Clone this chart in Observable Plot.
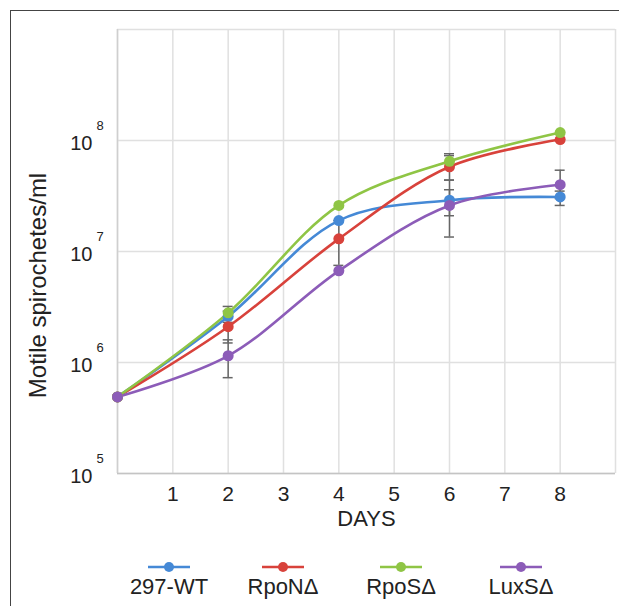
<!DOCTYPE html>
<html><head><meta charset="utf-8">
<script src="https://cdn.jsdelivr.net/npm/d3@7"></script>
<script src="https://cdn.jsdelivr.net/npm/@observablehq/plot@0.6"></script>
<style>
body{margin:0;width:619px;height:606px;overflow:hidden;background:#fff;font-family:"Liberation Sans",Arial,sans-serif;position:relative}
#frame{position:absolute;left:10px;top:10px;width:700px;height:700px;border-left:1.5px solid #444;border-top:1.5px solid #444}
#chart{position:absolute;left:0;top:0}
#legend{position:absolute;left:0;top:530px;width:619px;height:76px}
.item{position:absolute;top:0;width:120px;margin-left:-60px;text-align:center;color:#222;font-size:22px;line-height:24px}
.item svg{display:block;margin:31px auto 2px auto}
</style></head><body>
<div id="frame"></div><div id="chart"></div><div id="legend"></div>
<script>
// ---- data ----
const days = [0, 2, 4, 6, 8];
const seriesNames = ["297-WT", "RpoNΔ", "RpoSΔ", "LuxSΔ"];
const seriesColors = ["#4589d6", "#d8423b", "#8fc545", "#8c5cb8"];
const wt   = [4.9e5, 2.6e6, 1.9e7, 2.9e7, 3.1e7];
const rpoN = [4.9e5, 2.1e6, 1.3e7, 5.8e7, 1.02e8];
const rpoS = [4.9e5, 2.8e6, 2.6e7, 6.5e7, 1.18e8];
const luxS = [4.9e5, 1.15e6, 6.7e6, 2.6e7, 4.0e7];
// error bars
const errDay  = [2, 2, 2, 4, 6, 6, 6, 6, 8, 8];
const errLow  = [2.3e6, 1.5e6, 7.3e5, 7.5e6, 5.5e7, 4.4e7, 2.1e7, 1.35e7, 2.6e7, 3.0e7];
const errHigh = [3.2e6, 2.9e6, 1.6e6, 1.9e7, 7.6e7, 7.3e7, 3.6e7, 4.4e7, 3.5e7, 5.4e7];
// ticks
const xTicks = [1, 2, 3, 4, 5, 6, 7, 8];
const xGrid = [0, 1, 2, 3, 4, 5, 6, 7, 8, 9];
const yTicks = [1e5, 1e6, 1e7, 1e8];
const yExp = ["5", "6", "7", "8"];
const yGrid = [1e5, 1e6, 1e7, 1e8, 1e9];

// ---- build tables ----
const allValues = [wt, rpoN, rpoS, luxS];
const rows = [];
allValues.forEach((vals, s) => days.forEach((d, i) => rows.push({series: seriesNames[s], day: d, value: vals[i]})));
const errs = errDay.map((d, i) => ({day: d, lo: errLow[i], hi: errHigh[i]}));
const caps = errs.flatMap(e => [{day: e.day, v: e.lo}, {day: e.day, v: e.hi}]);
const capHalf = 0.09;

const chart = Plot.plot({
  width: 619, height: 530,
  marginLeft: 117, marginRight: 4, marginTop: 29, marginBottom: 57,
  style: {fontFamily: "'Liberation Sans', Arial, sans-serif", background: "transparent", color: "#222", overflow: "visible"},
  x: {domain: [0, 9]},
  y: {type: "log", domain: [1e5, 1e9]},
  color: {domain: seriesNames, range: seriesColors},
  marks: [
    Plot.ruleX(xGrid, {stroke: "#e0e0e0", strokeWidth: 1.5}),
    Plot.ruleY(yGrid, {stroke: "#e0e0e0", strokeWidth: 1.5}),
    Plot.ruleX([0], {stroke: "#cfcfcf", strokeWidth: 1.5}),
    Plot.ruleY([1e5], {stroke: "#c4c4c4", strokeWidth: 1.5}),
    Plot.axisX(xTicks, {tickSize: 0, tickPadding: 13, fontSize: 21, label: null, tickFormat: d => String(d)}),
    Plot.axisY([], {label: null}),
    Plot.text(yTicks, {y: d => d, frameAnchor: "left", text: () => "10", textAnchor: "end", dx: -25, dy: 3, fontSize: 20}),
    Plot.text(yTicks, {y: d => d, frameAnchor: "left", text: (d, i) => yExp[i], textAnchor: "start", dx: -21, dy: -15, fontSize: 13}),
    Plot.text(["DAYS"], {frameAnchor: "bottom", dy: 52, fontSize: 22}),
    Plot.text(["Motile spirochetes/ml"], {frameAnchor: "left", textAnchor: "middle", rotate: -90, dx: -79, dy: 34, fontSize: 24}),
    // error bars
    Plot.ruleX(errs, {x: "day", y1: "lo", y2: "hi", stroke: "#666", strokeWidth: 1.5}),
    Plot.ruleY(caps, {y: "v", x1: d => d.day - capHalf, x2: d => d.day + capHalf, stroke: "#666", strokeWidth: 1.5}),
    // series
    Plot.line(rows, {x: "day", y: "value", z: "series", stroke: "series", strokeWidth: 2.6, curve: "catmull-rom"}),
    Plot.dot(rows, {x: "day", y: "value", fill: "series", r: 5.5})
  ]
});
document.getElementById("chart").appendChild(chart);

// ---- legend ----
const legendCenters = [169, 283, 401, 521];
const legend = d3.select("#legend");
seriesNames.forEach((name, i) => {
  const item = legend.append("div").attr("class", "item").style("left", legendCenters[i] + "px");
  const sw = item.append("svg").attr("width", 44).attr("height", 12);
  sw.append("line").attr("x1", 1).attr("x2", 43).attr("y1", 6).attr("y2", 6).attr("stroke", seriesColors[i]).attr("stroke-width", 2.6);
  sw.append("circle").attr("cx", 22).attr("cy", 6).attr("r", 5).attr("fill", seriesColors[i]);
  item.append("div").text(name);
});
</script>
</body></html>
